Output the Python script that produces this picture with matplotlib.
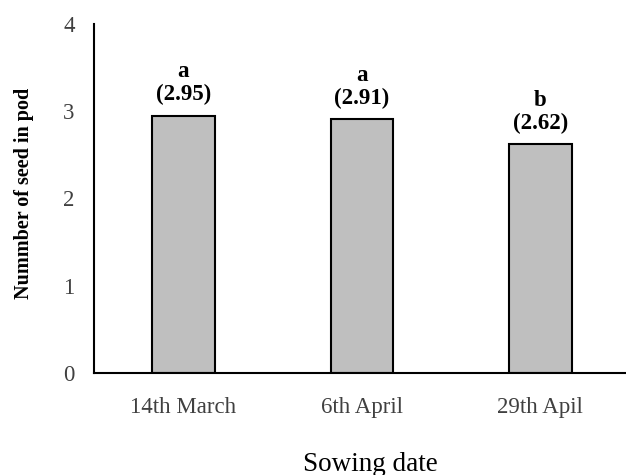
import matplotlib
matplotlib.use('Agg')
from matplotlib import pyplot as plt

# Sowing date vs number of seed per pod
dates = ['14th March', '6th April', '29th Apil']
seeds = [2.95, 2.91, 2.62]
groups = ['a', 'a', 'b']

plt.rcParams['font.family'] = ['Liberation Serif', 'DejaVu Serif']

fig = plt.figure(figsize=(6.26, 4.75), dpi=100)
ax = fig.add_axes([94 / 626, 102 / 475, 532 / 626, 349 / 475])

x = range(len(dates))
ax.bar(x, seeds, width=0.35, color='#bfbfbf', edgecolor='black', linewidth=1.5)

for i, (v, g) in enumerate(zip(seeds, groups)):
    ax.text(i, v + 0.12, g + '\n(' + format(v, '.2f') + ')', ha='center', va='bottom',
            fontsize=16.5, fontweight='bold', linespacing=1.1)

ax.set_xlim(-0.5, 2.48)
ax.set_ylim(0, 4)
ax.set_yticks([0, 1, 2, 3, 4])
ax.set_xticks(list(x))
ax.set_xticklabels(dates)
ax.tick_params(axis='both', length=0, labelsize=16.5, colors='#404040')
ax.tick_params(axis='x', pad=17)
ax.tick_params(axis='y', pad=14)
for s in ['top', 'right']:
    ax.spines[s].set_visible(False)
for s in ['left', 'bottom']:
    ax.spines[s].set_linewidth(1.5)

ax.set_ylabel('Nummber of seed in pod', fontsize=14.5, fontweight='bold')
ax.yaxis.set_label_coords(-0.112, 0.515)
ax.set_xlabel('Sowing date', fontsize=19.5)
ax.xaxis.set_label_coords(0.52, -0.225)

fig.savefig('out.png', dpi=100)
